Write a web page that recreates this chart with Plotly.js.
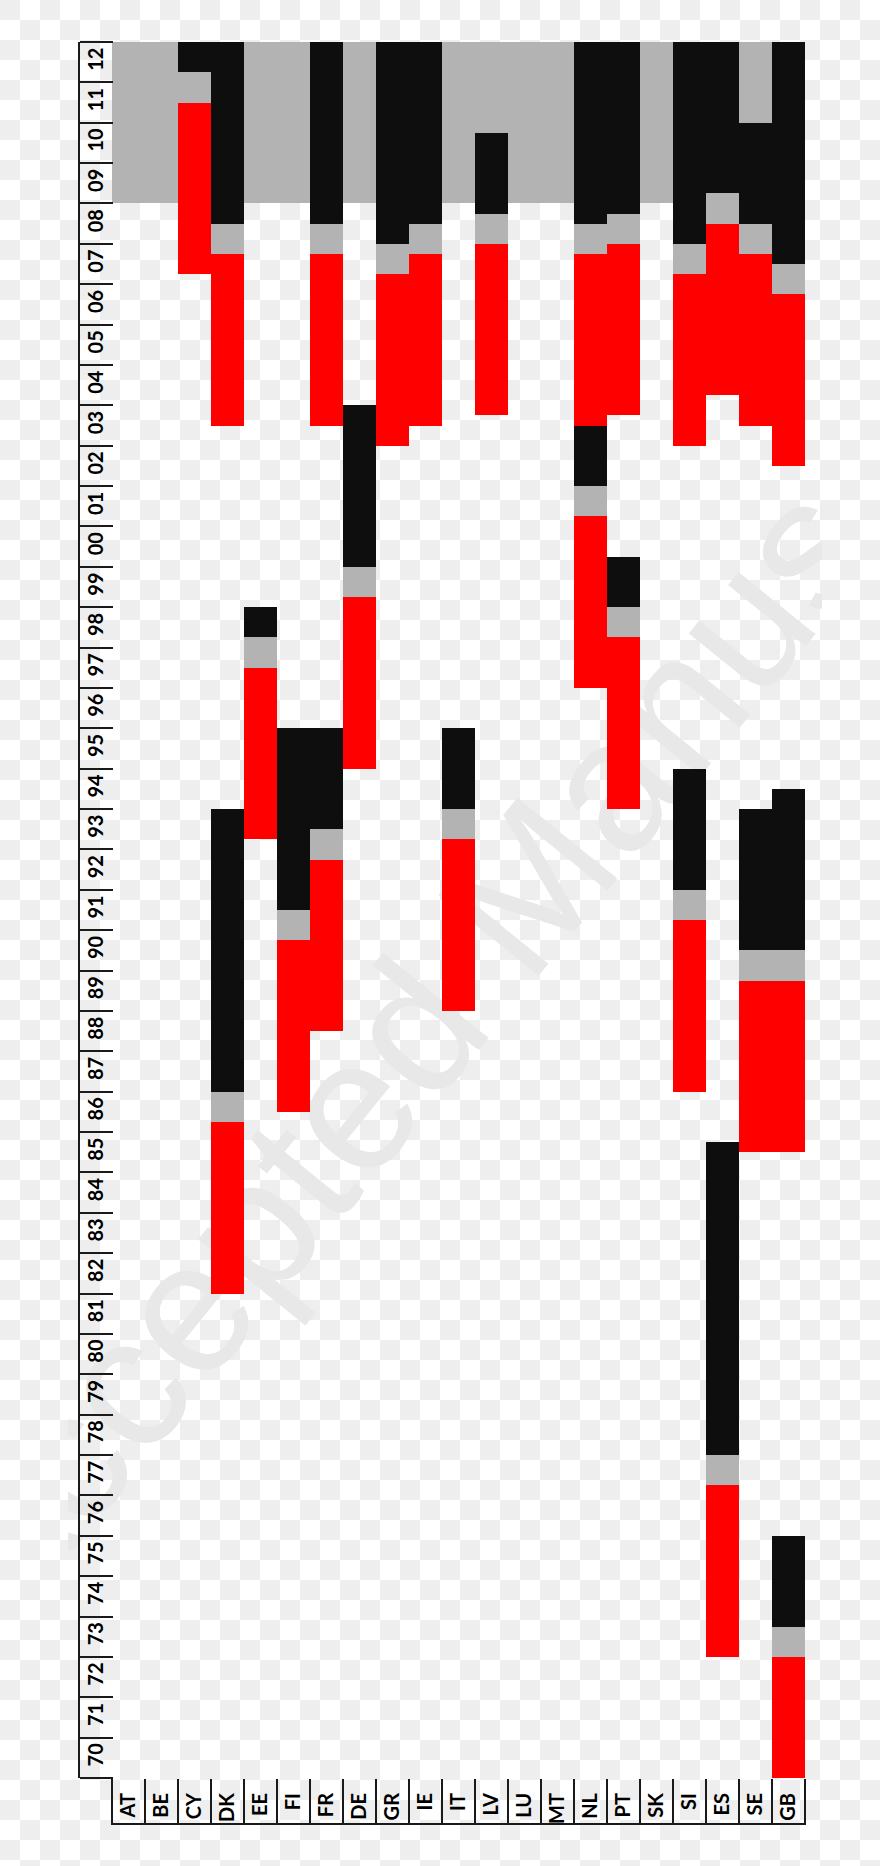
<!DOCTYPE html>
<html>
<head>
<meta charset="utf-8">
<script src="https://cdn.plot.ly/plotly-3.0.1.min.js"></script>
<style>
  html, body { margin: 0; padding: 0; width: 880px; height: 1866px; overflow: hidden; }
  body {
    background-color: #ffffff;
    background-image: repeating-conic-gradient(#ffffff 0 25%, #eeeeee 0 50%);
    background-size: 40px 40px;
    position: relative;
  }
  #wmclip { position: absolute; left: 68px; top: 0; width: 754px; height: 1866px; overflow: hidden; z-index: 0; }
  #wm {
    position: absolute; left: 437px; top: 915px;
    transform: translate(-50%, -50%) rotate(-51deg);
    font-family: 'Liberation Sans', Arial, sans-serif; font-size: 187px;
    line-height: 1; color: #e8e8e8; white-space: nowrap;
  }
  #chart { position: absolute; left: 0; top: 0; width: 880px; height: 1866px; z-index: 1; }
</style>
</head>
<body>
<div id="wmclip"><div id="wm">Accepted Manuscript</div></div>
<div id="chart"></div>
<script>
// ---- data ----
const countries = ['AT','BE','CY','DK','EE','FI','FR','DE','GR','IE','IT','LV','LU','MT','NL','PT','SK','SI','ES','SE','GB'];
const years = [1970,1971,1972,1973,1974,1975,1976,1977,1978,1979,1980,1981,1982,1983,1984,1985,1986,1987,1988,1989,1990,1991,1992,1993,1994,1995,1996,1997,1998,1999,2000,2001,2002,2003,2004,2005,2006,2007,2008,2009,2010,2011,2012];
const yearLabels = ['70','71','72','73','74','75','76','77','78','79','80','81','82','83','84','85','86','87','88','89','90','91','92','93','94','95','96','97','98','99','00','01','02','03','04','05','06','07','08','09','10','11','12'];

// grey band across all countries
const bandFrom = 2009;
const bandTo = 2013;

// episodes: red phase -> grey phase -> black phase
const epCountry = ['CY','DK','DK','EE','FI','FR','FR','DE','GR','IE','IT','LV','NL','NL','PT','PT','SI','SI','ES','ES','SE','SE','GB','GB','GB'];
const redFrom   = [2007.25,1982,2003.5,1993.25,1986.5,1988.5,2003.5,1995,2003,2003.5,1989,2003.75,1997,2003.5,1994,2003.75,1987,2003,1973,2004.25,1985.5,2003.5,1970,1985.5,2002.5];
const grayFrom  = [2011.5,1986.25,2007.75,1997.5,1990.75,1992.75,2007.75,1999.25,2007.25,2007.75,1993.25,2008,2001.25,2007.75,1998.25,2008,1991.25,2007.25,1977.25,2008.5,1989.75,2007.75,1973,1989.75,2006.75];
const blackFrom = [2012.25,1987,2008.5,1998.25,1991.5,1993.5,2008.5,2000,2008,2008.5,1994,2008.75,2002,2008.5,1999,2008.75,1992,2008,1978,2009.25,1990.5,2008.5,1973.75,1990.5,2007.5];
const blackTo   = [2013,1994,2013,1999,1996,1996,2013,2004,2013,2013,1996,2010.75,2003.5,2013,2000.25,2013,1995,2013,1985.75,2013,1994,2011,1976,1994.5,2013];

// ---- styles ----
const RED = '#ff0000', GREY = '#b3b3b3', BLACK = '#0e0e0e', LINE = '#1a1a1a';
const FONT = {family: 'Lato, "Open Sans", sans-serif', size: 20, color: '#000000', weight: 'bold'};
const LABEL_ROW = 46;          // height of the country label row (px)
const PLOT_H = 1866 - 41.7 - 87.7;

function seg(from, to, color) {
  return {
    type: 'bar', x: epCountry, base: from,
    y: from.map((v, i) => to[i] - v),
    marker: {color: color, line: {width: 0}},
    hoverinfo: 'skip', showlegend: false
  };
}

const traces = [
  {type: 'bar', x: countries, base: countries.map(() => bandFrom), y: countries.map(() => bandTo - bandFrom),
   marker: {color: GREY, line: {width: 0}}, hoverinfo: 'skip', showlegend: false},
  seg(redFrom, grayFrom, RED),
  seg(grayFrom, blackFrom, GREY),
  seg(blackFrom, blackTo, BLACK),
  // empty trace so the divider axis exists
  {type: 'scatter', x: [], y: [], xaxis: 'x2', yaxis: 'y', hoverinfo: 'skip', showlegend: false}
];

const xDomain = [33 / 726, 1];
const boundaries = countries.map((c, i) => i - 0.5).concat([countries.length - 0.5]);

const layout = {
  width: 880, height: 1866, autosize: false,
  margin: {l: 79, r: 75, t: 41.7, b: 87.7, pad: 0},
  paper_bgcolor: 'rgba(0,0,0,0)', plot_bgcolor: 'rgba(0,0,0,0)',
  barmode: 'overlay', bargap: 0,
  showlegend: false,
  xaxis: {
    type: 'category', categoryorder: 'array', categoryarray: countries,
    range: [-0.5, countries.length - 0.5],
    domain: xDomain, anchor: 'y',
    showline: false, ticks: '', tickangle: -90, tickfont: FONT, ticklabelstandoff: 10,
    showgrid: false, zeroline: false, fixedrange: true, automargin: false
  },
  xaxis2: {
    overlaying: 'x', anchor: 'y', domain: xDomain,
    range: [-0.5, countries.length - 0.5],
    tickmode: 'array', tickvals: boundaries, showticklabels: false,
    ticks: 'outside', ticklen: LABEL_ROW, tickwidth: 2, tickcolor: LINE,
    showline: false, showgrid: false, zeroline: false, fixedrange: true, automargin: false
  },
  yaxis: {
    range: [1970, 2013],
    domain: [0, 1], anchor: 'free', position: 0,
    showline: true, linecolor: LINE, linewidth: 2,
    tickmode: 'array', tickvals: years.map(y => y + 0.5), ticktext: yearLabels,
    ticks: '', ticklabelposition: 'inside', tickangle: -90, tickfont: FONT,
    minor: {tickmode: 'linear', tick0: 1970, dtick: 1, ticks: 'inside', ticklen: 33, tickwidth: 2, tickcolor: LINE, showgrid: false},
    showgrid: false, zeroline: false, fixedrange: true, automargin: false
  },
  shapes: [
    {type: 'line', xref: 'paper', yref: 'paper', x0: xDomain[0], x1: 1,
     y0: -LABEL_ROW / PLOT_H, y1: -LABEL_ROW / PLOT_H, line: {color: LINE, width: 2}}
  ]
};

Plotly.newPlot('chart', traces, layout, {staticPlot: true, displayModeBar: false});
</script>
</body>
</html>
